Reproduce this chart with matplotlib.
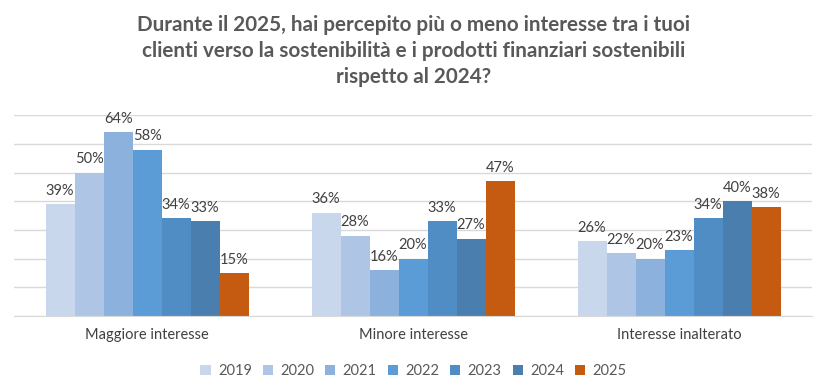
import numpy as np
import matplotlib.pyplot as plt

categories = ["Maggiore interesse", "Minore interesse", "Interesse inalterato"]
years = ["2019", "2020", "2021", "2022", "2023", "2024", "2025"]
values = {
    "2019": [39, 36, 26],
    "2020": [50, 28, 22],
    "2021": [64, 16, 20],
    "2022": [58, 20, 23],
    "2023": [34, 33, 34],
    "2024": [33, 27, 40],
    "2025": [15, 47, 38],
}
colors = ["#C8D7EC", "#AEC5E5", "#8DB1DD", "#5B9BD6", "#508DC4", "#4A7EAF", "#C55A11"]

plt.rcParams['font.family'] = ['Lato', 'DejaVu Sans']

fig = plt.figure(figsize=(8.27, 3.89), dpi=100)
ax = fig.add_axes([0.017, 0.1877, 0.965, 0.5163])

x = np.arange(len(categories))
n = len(years)
w = 0.763 / n
for i, yr in enumerate(years):
    pos = x - 0.763 / 2 + w * (i + 0.5)
    bars = ax.bar(pos, values[yr], w, color=colors[i], label=yr, zorder=2)
    for b, v in zip(bars, values[yr]):
        ax.text(b.get_x() + b.get_width() / 2, v + 2.2, f"{v}%", ha='center', va='bottom',
                fontsize=10.5, color='#404040')

ax.set_xlim(-0.5, 2.5)
ax.set_ylim(0, 70)
ax.set_yticks(np.arange(0, 71, 10))
ax.yaxis.grid(True, color='#D9D9D9', linewidth=1, zorder=0)
ax.set_yticklabels([])
ax.tick_params(axis='y', length=0)
ax.tick_params(axis='x', length=0, pad=9, labelsize=10.5, labelcolor='#404040')
ax.set_xticks(x)
ax.set_xticklabels(categories)
for s in ['top', 'right', 'left']:
    ax.spines[s].set_visible(False)
ax.spines['bottom'].set_color('#D9D9D9')

fig.text(0.5, 0.869, "Durante il 2025, hai percepito più o meno interesse tra i tuoi\n"
         "clienti verso la sostenibilità e i prodotti finanziari sostenibili\n"
         "rispetto al 2024?", ha='center', va='center', fontsize=14.9,
         fontweight='bold', color='#595959', linespacing=1.38)

fig.legend(loc='center', bbox_to_anchor=(0.5, 0.045), ncol=7, frameon=False,
           fontsize=10.5, labelcolor='#595959', handlelength=0.7, handleheight=0.7,
           columnspacing=0.75, handletextpad=0.5)

fig.savefig("out.png", dpi=100)
